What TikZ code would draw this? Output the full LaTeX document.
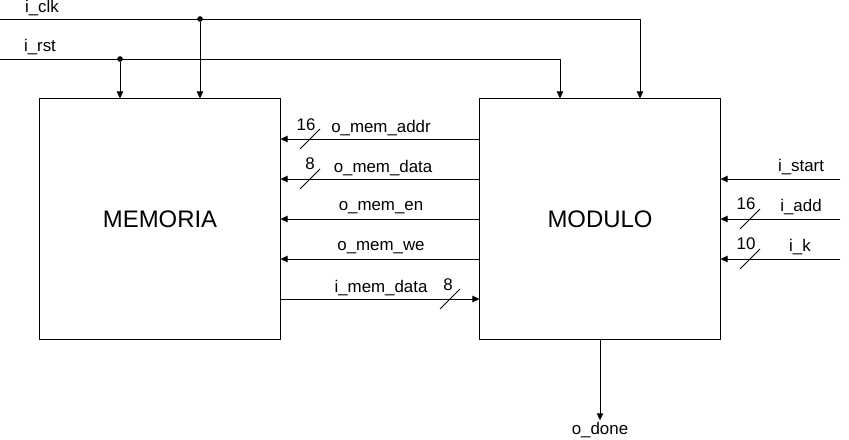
\documentclass[tikz,border=0pt]{standalone}
\usepackage{fontspec}
\setmainfont{Liberation Sans}
\usetikzlibrary{arrows.meta}
\usetikzlibrary{positioning}

\begin{document}
\begin{tikzpicture}[
  x=0.025cm, y=-0.025cm,
  line width=0.7pt
]
\tikzset{
    block/.style = {draw=black, minimum width=6cm, minimum height=6cm, font=\fontsize{17}{19}\selectfont},
    sig/.style = {-{Triangle[length=5pt,width=4.5pt]}},
    lbl/.style = {font=\fontsize{12}{14}\selectfont, inner sep=1pt},
    dot/.style = {circle, fill=black, inner sep=0pt, minimum size=4pt},
}
\useasboundingbox (0,0) rectangle (849,440);

\node (mem) [block] at (160,219) {MEMORIA};
\node (mod) [block] at (600,219) {MODULO};

% clock and reset
\coordinate (clkin) at (0,19);
\coordinate (rstin) at (0,59);
\node (clkdot) [dot] at (200,19) {};
\node (rstdot) [dot] at (120,59) {};
\node (clk) [lbl] at (42,8) {i\_clk};
\node (rst) [lbl] at (40,47) {i\_rst};
\draw[sig] (clkin) -| (mod.north -| 640,0);
\draw[sig] (rstin) -| (mod.north -| 560,0);
\draw[sig] (clkdot) -- (mem.north -| clkdot);
\draw[sig] (rstdot) -- (mem.north -| rstdot);

% memory bus
\draw[sig] (mod.west |- 0,139) -- (mem.east |- 0,139);
\draw[sig] (mod.west |- 0,179) -- (mem.east |- 0,179);
\draw[sig] (mod.west |- 0,219) -- (mem.east |- 0,219);
\draw[sig] (mod.west |- 0,259) -- (mem.east |- 0,259);
\draw[sig] (mem.east |- 0,299) -- (mod.west |- 0,299);
\node (addr) [lbl] at (381,128) {o\_mem\_addr};
\node (wdata) [lbl] at (383,168) {o\_mem\_data};
\node (en) [lbl] at (381,208) {o\_mem\_en};
\node (we) [lbl] at (381,248) {o\_mem\_we};
\node (rdata) [lbl] at (381,288) {i\_mem\_data};
\draw (310,139) +(-10,10) -- +(10,-10);
\draw (310,179) +(-10,10) -- +(10,-10);
\draw (450,299) +(-10,10) -- +(10,-10);
\node [lbl] at (306,125) {16};
\node [lbl] at (310,164) {8};
\node [lbl] at (448,285) {8};

% module inputs
\coordinate (startin) at (840,179);
\coordinate (addin) at (840,219);
\coordinate (kin) at (840,259);
\draw[sig] (startin) -- (mod.east |- startin);
\draw[sig] (addin) -- (mod.east |- addin);
\draw[sig] (kin) -- (mod.east |- kin);
\node (start) [lbl] at (801,167) {i\_start};
\node (add) [lbl] at (801,207) {i\_add};
\node (k) [lbl] at (800,247) {i\_k};
\draw (750,219) +(-10,10) -- +(10,-10);
\draw (750,259) +(-10,10) -- +(10,-10);
\node [lbl] at (746,204) {16};
\node [lbl] at (746,244) {10};

% output
\node (done) [lbl] at (600,430) {o\_done};
\draw[sig] (mod.south) -- (done.north);

\end{tikzpicture}
\end{document}
